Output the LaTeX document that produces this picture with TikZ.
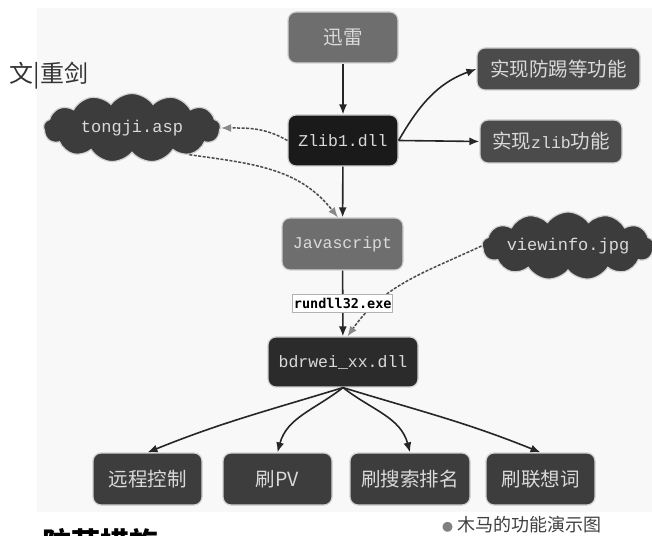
\documentclass[tikz,border=0pt]{standalone}
\usepackage{fontspec}
\newfontfamily\cjk{Noto Sans CJK SC}
\newfontfamily\monof{Liberation Mono}
\newfontfamily\dvmono{DejaVu Sans Mono}
\usetikzlibrary{arrows.meta,shapes.symbols}
\definecolor{panel}{HTML}{F8F8F8}
\definecolor{txt}{HTML}{DADADA}
\definecolor{arrowc}{HTML}{262626}
\definecolor{dashc}{HTML}{4A4A4A}
\definecolor{tipg}{HTML}{8A8A8A}
\definecolor{gbox}{HTML}{6E6E6E}
\definecolor{kbox}{HTML}{1A1A1A}
\definecolor{mbox}{HTML}{4B4B4B}
\definecolor{dbox}{HTML}{2B2B2B}
\definecolor{bbox}{HTML}{3D3D3D}
\definecolor{cloudc}{HTML}{3C3C3C}
\tikzset{
  box/.style={rectangle, rounded corners=8pt, draw=gray!35, line width=1.2pt,
    text=txt, inner sep=0pt, align=center},
  cjkf/.style={font=\cjk\fontsize{19.5}{21}\selectfont},
  monot/.style={font=\monof\fontsize{16.5}{18}\selectfont},
  cloudn/.style={cloud, cloud puffs=13, cloud puff arc=110, cloud ignores aspect,
    fill=cloudc, draw=gray!35, line width=1.2pt, inner sep=0pt, text=txt,
    font=\monof\fontsize{17}{18}\selectfont},
  lab/.style={rectangle, fill=white, draw=gray!60, line width=0.6pt,
    minimum width=100pt, minimum height=18pt, inner sep=0pt, text=black,
    font=\dvmono\bfseries\fontsize{13.5}{14}\selectfont},
  arr/.style={-{Latex[length=10pt,width=8pt]}, line width=1.6pt, draw=arrowc},
  darr/.style={-{Latex[length=10pt,width=8pt,color=tipg,fill=tipg]},
    line width=1.5pt, draw=dashc, dash pattern=on 3pt off 1.5pt}
}
\begin{document}
\begin{tikzpicture}[x=1pt,y=1pt]
\useasboundingbox (0,0) rectangle (652,535);
\clip (0,0) rectangle (652,535);
\fill[white] (0,0) rectangle (652,535);
\fill[panel] (37,23) rectangle (652,527);

% nodes
\node[box, cjkf, fill=gbox, minimum width=110pt, minimum height=51pt] (xl) at (343,497.5) {迅雷};
\node[box, monot, fill=kbox, minimum width=110pt, minimum height=51pt] (zl) at (343,394.5) {Zlib1.dll};
\node[box, cjkf, fill=mbox, minimum width=163pt, minimum height=42pt] (fang) at (558.5,466) {实现防踢等功能};
\node[box, fill=mbox, minimum width=142pt, minimum height=43pt] (zfn) at (551,393.5)
  {{\cjk\fontsize{19.5}{21}\selectfont 实现}{\monof\fontsize{16.5}{18}\selectfont zlib}{\cjk\fontsize{19.5}{21}\selectfont 功能}};
\node[box, monot, fill=gbox, minimum width=121pt, minimum height=52pt] (js) at (342.5,291) {Javascript};
\node[box, monot, fill=dbox, minimum width=150pt, minimum height=50pt] (bd) at (343,173) {bdrwei\_xx.dll};
\node[box, cjkf, fill=bbox, minimum width=109pt, minimum height=52pt] (b1) at (147.5,56) {远程控制};
\node[box, cjkf, fill=bbox, minimum width=109pt, minimum height=52pt] (b2) at (277.5,56) {刷PV};
\node[box, cjkf, fill=bbox, minimum width=120pt, minimum height=52pt] (b3) at (410,56) {刷搜索排名};
\node[box, cjkf, fill=bbox, minimum width=109pt, minimum height=52pt] (b4) at (540.5,56) {刷联想词};
\node[cloudn, minimum width=177pt, minimum height=69pt] (tj) at (132,407) {tongji.asp};
\node[cloudn, minimum width=172pt, minimum height=68pt] (vw) at (568,289) {viewinfo.jpg};

% texts
\node[font=\cjk\fontsize{24}{26}\selectfont, text=black!80, inner sep=0pt] (auth) at (49,459) {文|重剑};
\node[font=\cjk\fontsize{18}{20}\selectfont, text=black!75, inner sep=0pt, anchor=west] (cap) at (442,10)
  {{\color{gray}\fontsize{11}{12}\selectfont ●} 木马的功能演示图};
\node[font=\cjk\bfseries\fontsize{29}{31}\selectfont, text=black, inner sep=0pt, anchor=north west] (head) at (42,7) {防范措施};

% dashed connectors
\draw[darr] (zl.west) to[out=150,in=0] (tj.east);
\draw[darr] (tj.-25) to[out=-8,in=128] (js.100);
\draw[darr] (vw.west) to[out=205,in=55] (bd.80);

% solid connectors
\draw[arr] (xl) -- (zl);
\draw[arr] (zl) -- (js);
\draw[arr] (zl.east) to[out=60,in=200] (fang.west);
\draw[arr] (zl.east) -- (zfn.west);
\draw[arr] (js) -- node[lab] (rl) {rundll32.exe} (bd);
\draw[arr] (bd.south) to[out=197,in=22] (b1.north);
\draw[arr] (bd.south) to[out=218,in=75] (b2.north);
\draw[arr] (bd.south) to[out=-38,in=105] (b3.north);
\draw[arr] (bd.south) to[out=-17,in=158] (b4.north);
\end{tikzpicture}
\end{document}
